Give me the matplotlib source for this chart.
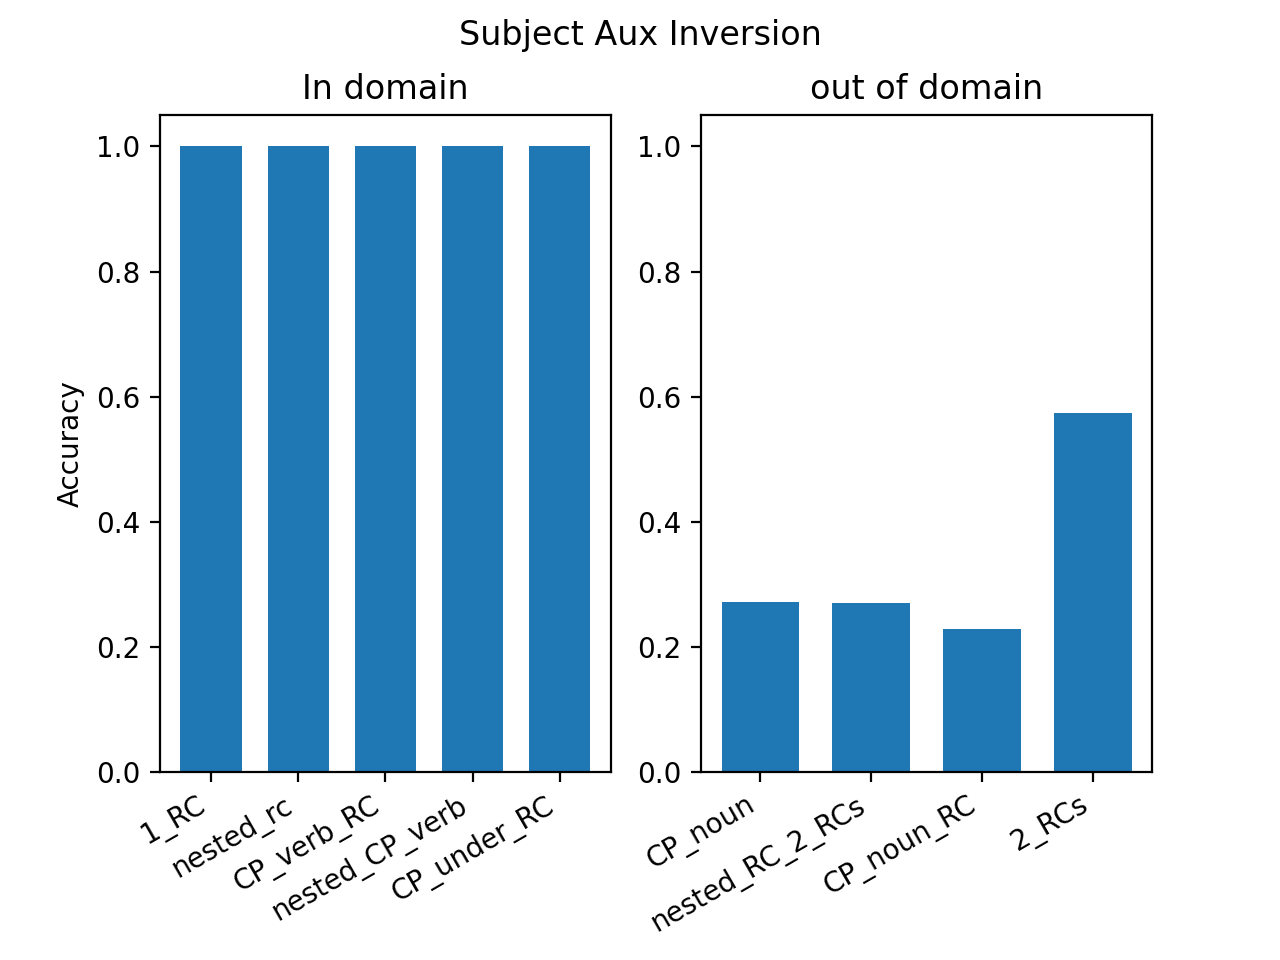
import matplotlib
matplotlib.use("Agg")
import matplotlib.pyplot as plt

in_labels = ['1_RC', 'nested_rc', 'CP_verb_RC', 'nested_CP_verb', 'CP_under_RC']
in_acc = [1.0, 1.0, 1.0, 1.0, 1.0]
out_labels = ['CP_noun', 'nested_RC_2_RCs', 'CP_noun_RC', '2_RCs']
out_acc = [0.272, 0.270, 0.229, 0.574]

fig, (ax1, ax2) = plt.subplots(1, 2, figsize=(6.4, 4.8), dpi=200)
fig.suptitle('Subject Aux Inversion')

ax1.bar(in_labels, in_acc, width=0.7)
ax1.set_title('In domain')
ax1.set_ylabel('Accuracy')

ax2.bar(out_labels, out_acc, width=0.7)
ax2.set_title('out of domain')
ax2.set_ylim(ax1.get_ylim())

fig.autofmt_xdate(bottom=0.196)
fig.savefig('out.png')
